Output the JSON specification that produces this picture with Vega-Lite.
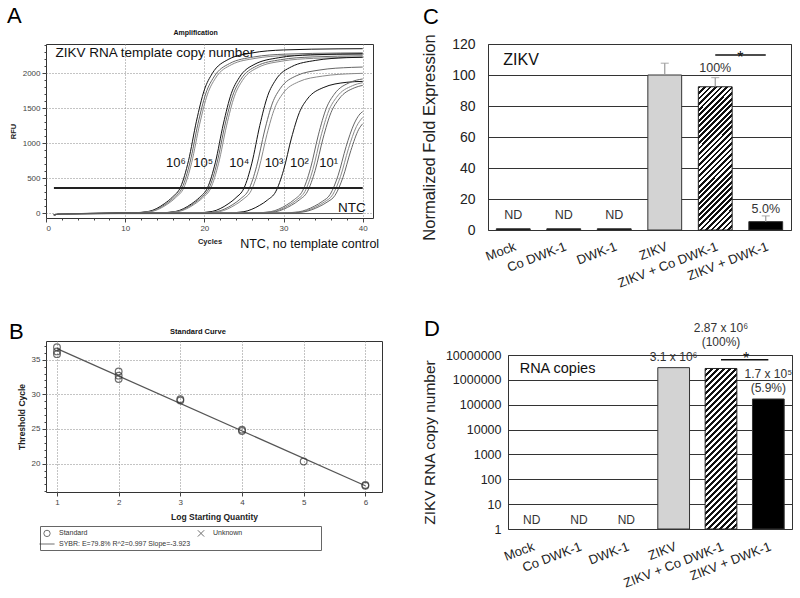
{
"$schema": "https://vega.github.io/schema/vega-lite/v6.json",
"background": "white",
"padding": {"left": 6, "top": 4, "right": 5, "bottom": 5},
"config": {
  "view": {"stroke": null},
  "font": "Liberation Sans",
  "axis": {"labelFont": "Liberation Sans", "titleFont": "Liberation Sans", "labelOverlap": false, "labelBound": false},
  "title": {"font": "Liberation Sans", "fontSize": 22, "fontWeight": "normal", "anchor": "start", "frame": "group", "color": "#000", "baseline": "bottom"}
},
"spacing": 26,
"resolve": {"scale": {"color": "independent", "shape": "independent"}},
"vconcat": [
 {"spacing": 115, "bounds": "flush", "resolve": {"scale": {"color": "independent", "shape": "independent"}}, "hconcat": [
  {
   "width": 327, "height": 174,
   "view": {"stroke": "#333"},
   "title": {"text": "A", "dx": -39, "offset": 1},
   "layer": [
    {
     "data": {"values": [
{"curve":"6a","rep":"1","cycle":1,"rfu":-20},{"curve":"6a","rep":"1","cycle":3,"rfu":-5},{"curve":"6a","rep":"1","cycle":11,"rfu":7},{"curve":"6a","rep":"1","cycle":13,"rfu":28},{"curve":"6a","rep":"1","cycle":14,"rfu":70},{"curve":"6a","rep":"1","cycle":15,"rfu":141},{"curve":"6a","rep":"1","cycle":16,"rfu":235},{"curve":"6a","rep":"1","cycle":17,"rfu":376},{"curve":"6a","rep":"1","cycle":18,"rfu":752},{"curve":"6a","rep":"1","cycle":19,"rfu":1316},{"curve":"6a","rep":"1","cycle":20,"rfu":1763},{"curve":"6a","rep":"1","cycle":21,"rfu":1998},{"curve":"6a","rep":"1","cycle":23,"rfu":2197},{"curve":"6a","rep":"1","cycle":26,"rfu":2291},{"curve":"6a","rep":"1","cycle":30,"rfu":2334},{"curve":"6a","rep":"1","cycle":37,"rfu":2350},{"curve":"6a","rep":"1","cycle":40,"rfu":2352},
{"curve":"6b","rep":"2","cycle":1,"rfu":-20},{"curve":"6b","rep":"2","cycle":3,"rfu":-5},{"curve":"6b","rep":"2","cycle":11.2,"rfu":7},{"curve":"6b","rep":"2","cycle":13.2,"rfu":27},{"curve":"6b","rep":"2","cycle":14.2,"rfu":69},{"curve":"6b","rep":"2","cycle":15.2,"rfu":137},{"curve":"6b","rep":"2","cycle":16.2,"rfu":229},{"curve":"6b","rep":"2","cycle":17.2,"rfu":366},{"curve":"6b","rep":"2","cycle":18.2,"rfu":733},{"curve":"6b","rep":"2","cycle":19.2,"rfu":1282},{"curve":"6b","rep":"2","cycle":20.2,"rfu":1718},{"curve":"6b","rep":"2","cycle":21.2,"rfu":1947},{"curve":"6b","rep":"2","cycle":23.2,"rfu":2141},{"curve":"6b","rep":"2","cycle":26.2,"rfu":2233},{"curve":"6b","rep":"2","cycle":30.2,"rfu":2274},{"curve":"6b","rep":"2","cycle":37.2,"rfu":2290},{"curve":"6b","rep":"2","cycle":40,"rfu":2292},
{"curve":"6c","rep":"3","cycle":1,"rfu":-20},{"curve":"6c","rep":"3","cycle":3,"rfu":-5},{"curve":"6c","rep":"3","cycle":11.4,"rfu":7},{"curve":"6c","rep":"3","cycle":13.4,"rfu":27},{"curve":"6c","rep":"3","cycle":14.4,"rfu":68},{"curve":"6c","rep":"3","cycle":15.4,"rfu":136},{"curve":"6c","rep":"3","cycle":16.4,"rfu":227},{"curve":"6c","rep":"3","cycle":17.4,"rfu":363},{"curve":"6c","rep":"3","cycle":18.4,"rfu":726},{"curve":"6c","rep":"3","cycle":19.4,"rfu":1271},{"curve":"6c","rep":"3","cycle":20.4,"rfu":1703},{"curve":"6c","rep":"3","cycle":21.4,"rfu":1930},{"curve":"6c","rep":"3","cycle":23.4,"rfu":2122},{"curve":"6c","rep":"3","cycle":26.4,"rfu":2213},{"curve":"6c","rep":"3","cycle":30.4,"rfu":2254},{"curve":"6c","rep":"3","cycle":37.4,"rfu":2270},{"curve":"6c","rep":"3","cycle":40,"rfu":2272},
{"curve":"5a","rep":"1","cycle":1,"rfu":-20},{"curve":"5a","rep":"1","cycle":3,"rfu":-5},{"curve":"5a","rep":"1","cycle":14.4,"rfu":7},{"curve":"5a","rep":"1","cycle":16.4,"rfu":27},{"curve":"5a","rep":"1","cycle":17.4,"rfu":68},{"curve":"5a","rep":"1","cycle":18.4,"rfu":137},{"curve":"5a","rep":"1","cycle":19.4,"rfu":228},{"curve":"5a","rep":"1","cycle":20.4,"rfu":365},{"curve":"5a","rep":"1","cycle":21.4,"rfu":730},{"curve":"5a","rep":"1","cycle":22.4,"rfu":1277},{"curve":"5a","rep":"1","cycle":23.4,"rfu":1710},{"curve":"5a","rep":"1","cycle":24.4,"rfu":1938},{"curve":"5a","rep":"1","cycle":26.4,"rfu":2132},{"curve":"5a","rep":"1","cycle":29.4,"rfu":2223},{"curve":"5a","rep":"1","cycle":33.4,"rfu":2264},{"curve":"5a","rep":"1","cycle":40,"rfu":2280},
{"curve":"5b","rep":"2","cycle":1,"rfu":-20},{"curve":"5b","rep":"2","cycle":3,"rfu":-5},{"curve":"5b","rep":"2","cycle":14.6,"rfu":7},{"curve":"5b","rep":"2","cycle":16.6,"rfu":27},{"curve":"5b","rep":"2","cycle":17.6,"rfu":68},{"curve":"5b","rep":"2","cycle":18.6,"rfu":135},{"curve":"5b","rep":"2","cycle":19.6,"rfu":225},{"curve":"5b","rep":"2","cycle":20.6,"rfu":360},{"curve":"5b","rep":"2","cycle":21.6,"rfu":720},{"curve":"5b","rep":"2","cycle":22.6,"rfu":1260},{"curve":"5b","rep":"2","cycle":23.6,"rfu":1688},{"curve":"5b","rep":"2","cycle":24.6,"rfu":1913},{"curve":"5b","rep":"2","cycle":26.6,"rfu":2104},{"curve":"5b","rep":"2","cycle":29.6,"rfu":2194},{"curve":"5b","rep":"2","cycle":33.6,"rfu":2234},{"curve":"5b","rep":"2","cycle":40,"rfu":2250},
{"curve":"5c","rep":"3","cycle":1,"rfu":-20},{"curve":"5c","rep":"3","cycle":3,"rfu":-5},{"curve":"5c","rep":"3","cycle":14.8,"rfu":7},{"curve":"5c","rep":"3","cycle":16.8,"rfu":27},{"curve":"5c","rep":"3","cycle":17.8,"rfu":67},{"curve":"5c","rep":"3","cycle":18.8,"rfu":134},{"curve":"5c","rep":"3","cycle":19.8,"rfu":223},{"curve":"5c","rep":"3","cycle":20.8,"rfu":357},{"curve":"5c","rep":"3","cycle":21.8,"rfu":714},{"curve":"5c","rep":"3","cycle":22.8,"rfu":1249},{"curve":"5c","rep":"3","cycle":23.8,"rfu":1673},{"curve":"5c","rep":"3","cycle":24.8,"rfu":1896},{"curve":"5c","rep":"3","cycle":26.8,"rfu":2085},{"curve":"5c","rep":"3","cycle":29.8,"rfu":2174},{"curve":"5c","rep":"3","cycle":33.8,"rfu":2214},{"curve":"5c","rep":"3","cycle":40,"rfu":2230},
{"curve":"4a","rep":"1","cycle":1,"rfu":-20},{"curve":"4a","rep":"1","cycle":3,"rfu":-5},{"curve":"4a","rep":"1","cycle":19,"rfu":7},{"curve":"4a","rep":"1","cycle":21,"rfu":27},{"curve":"4a","rep":"1","cycle":22,"rfu":67},{"curve":"4a","rep":"1","cycle":23,"rfu":134},{"curve":"4a","rep":"1","cycle":24,"rfu":224},{"curve":"4a","rep":"1","cycle":25,"rfu":358},{"curve":"4a","rep":"1","cycle":26,"rfu":717},{"curve":"4a","rep":"1","cycle":27,"rfu":1254},{"curve":"4a","rep":"1","cycle":28,"rfu":1680},{"curve":"4a","rep":"1","cycle":29,"rfu":1904},{"curve":"4a","rep":"1","cycle":31,"rfu":2094},{"curve":"4a","rep":"1","cycle":34,"rfu":2184},{"curve":"4a","rep":"1","cycle":38,"rfu":2224},{"curve":"4a","rep":"1","cycle":40,"rfu":2230},
{"curve":"4b","rep":"2","cycle":1,"rfu":-20},{"curve":"4b","rep":"2","cycle":3,"rfu":-5},{"curve":"4b","rep":"2","cycle":19.6,"rfu":6},{"curve":"4b","rep":"2","cycle":21.6,"rfu":25},{"curve":"4b","rep":"2","cycle":22.6,"rfu":63},{"curve":"4b","rep":"2","cycle":23.6,"rfu":126},{"curve":"4b","rep":"2","cycle":24.6,"rfu":210},{"curve":"4b","rep":"2","cycle":25.6,"rfu":336},{"curve":"4b","rep":"2","cycle":26.6,"rfu":672},{"curve":"4b","rep":"2","cycle":27.6,"rfu":1176},{"curve":"4b","rep":"2","cycle":28.6,"rfu":1575},{"curve":"4b","rep":"2","cycle":29.6,"rfu":1785},{"curve":"4b","rep":"2","cycle":31.6,"rfu":1964},{"curve":"4b","rep":"2","cycle":34.6,"rfu":2048},{"curve":"4b","rep":"2","cycle":38.6,"rfu":2085},{"curve":"4b","rep":"2","cycle":40,"rfu":2090},
{"curve":"4c","rep":"3","cycle":1,"rfu":-20},{"curve":"4c","rep":"3","cycle":3,"rfu":-5},{"curve":"4c","rep":"3","cycle":19.9,"rfu":6},{"curve":"4c","rep":"3","cycle":21.9,"rfu":24},{"curve":"4c","rep":"3","cycle":22.9,"rfu":60},{"curve":"4c","rep":"3","cycle":23.9,"rfu":121},{"curve":"4c","rep":"3","cycle":24.9,"rfu":201},{"curve":"4c","rep":"3","cycle":25.9,"rfu":322},{"curve":"4c","rep":"3","cycle":26.9,"rfu":643},{"curve":"4c","rep":"3","cycle":27.9,"rfu":1126},{"curve":"4c","rep":"3","cycle":28.9,"rfu":1508},{"curve":"4c","rep":"3","cycle":29.9,"rfu":1709},{"curve":"4c","rep":"3","cycle":31.9,"rfu":1879},{"curve":"4c","rep":"3","cycle":34.9,"rfu":1960},{"curve":"4c","rep":"3","cycle":38.9,"rfu":1996},{"curve":"4c","rep":"3","cycle":40,"rfu":2000},
{"curve":"3a","rep":"1","cycle":1,"rfu":-20},{"curve":"3a","rep":"1","cycle":3,"rfu":-5},{"curve":"3a","rep":"1","cycle":23,"rfu":6},{"curve":"3a","rep":"1","cycle":25,"rfu":23},{"curve":"3a","rep":"1","cycle":26,"rfu":58},{"curve":"3a","rep":"1","cycle":27,"rfu":115},{"curve":"3a","rep":"1","cycle":28,"rfu":192},{"curve":"3a","rep":"1","cycle":29,"rfu":307},{"curve":"3a","rep":"1","cycle":30,"rfu":614},{"curve":"3a","rep":"1","cycle":31,"rfu":1075},{"curve":"3a","rep":"1","cycle":32,"rfu":1440},{"curve":"3a","rep":"1","cycle":33,"rfu":1632},{"curve":"3a","rep":"1","cycle":35,"rfu":1795},{"curve":"3a","rep":"1","cycle":38,"rfu":1872},{"curve":"3a","rep":"1","cycle":40,"rfu":1885},
{"curve":"2a","rep":"2","cycle":1,"rfu":-20},{"curve":"2a","rep":"2","cycle":3,"rfu":-5},{"curve":"2a","rep":"2","cycle":26.4,"rfu":6},{"curve":"2a","rep":"2","cycle":28.4,"rfu":24},{"curve":"2a","rep":"2","cycle":29.4,"rfu":60},{"curve":"2a","rep":"2","cycle":30.4,"rfu":120},{"curve":"2a","rep":"2","cycle":31.4,"rfu":200},{"curve":"2a","rep":"2","cycle":32.4,"rfu":320},{"curve":"2a","rep":"2","cycle":33.4,"rfu":640},{"curve":"2a","rep":"2","cycle":34.4,"rfu":1120},{"curve":"2a","rep":"2","cycle":35.4,"rfu":1500},{"curve":"2a","rep":"2","cycle":36.4,"rfu":1700},{"curve":"2a","rep":"2","cycle":38.4,"rfu":1870},{"curve":"2a","rep":"2","cycle":40,"rfu":1920},
{"curve":"2b","rep":"3","cycle":1,"rfu":-20},{"curve":"2b","rep":"3","cycle":3,"rfu":-5},{"curve":"2b","rep":"3","cycle":26.7,"rfu":6},{"curve":"2b","rep":"3","cycle":28.7,"rfu":23},{"curve":"2b","rep":"3","cycle":29.7,"rfu":59},{"curve":"2b","rep":"3","cycle":30.7,"rfu":117},{"curve":"2b","rep":"3","cycle":31.7,"rfu":195},{"curve":"2b","rep":"3","cycle":32.7,"rfu":312},{"curve":"2b","rep":"3","cycle":33.7,"rfu":624},{"curve":"2b","rep":"3","cycle":34.7,"rfu":1092},{"curve":"2b","rep":"3","cycle":35.7,"rfu":1463},{"curve":"2b","rep":"3","cycle":36.7,"rfu":1658},{"curve":"2b","rep":"3","cycle":38.7,"rfu":1823},{"curve":"2b","rep":"3","cycle":40,"rfu":1866},
{"curve":"2c","rep":"2","cycle":1,"rfu":-20},{"curve":"2c","rep":"2","cycle":3,"rfu":-5},{"curve":"2c","rep":"2","cycle":27,"rfu":6},{"curve":"2c","rep":"2","cycle":29,"rfu":23},{"curve":"2c","rep":"2","cycle":30,"rfu":58},{"curve":"2c","rep":"2","cycle":31,"rfu":115},{"curve":"2c","rep":"2","cycle":32,"rfu":192},{"curve":"2c","rep":"2","cycle":33,"rfu":307},{"curve":"2c","rep":"2","cycle":34,"rfu":614},{"curve":"2c","rep":"2","cycle":35,"rfu":1075},{"curve":"2c","rep":"2","cycle":36,"rfu":1440},{"curve":"2c","rep":"2","cycle":37,"rfu":1632},{"curve":"2c","rep":"2","cycle":39,"rfu":1795},{"curve":"2c","rep":"2","cycle":40,"rfu":1828},
{"curve":"1a","rep":"2","cycle":1,"rfu":-20},{"curve":"1a","rep":"2","cycle":3,"rfu":-5},{"curve":"1a","rep":"2","cycle":29.9,"rfu":6},{"curve":"1a","rep":"2","cycle":31.9,"rfu":20},{"curve":"1a","rep":"2","cycle":32.9,"rfu":51},{"curve":"1a","rep":"2","cycle":33.9,"rfu":102},{"curve":"1a","rep":"2","cycle":34.9,"rfu":170},{"curve":"1a","rep":"2","cycle":35.9,"rfu":272},{"curve":"1a","rep":"2","cycle":36.9,"rfu":544},{"curve":"1a","rep":"2","cycle":37.9,"rfu":952},{"curve":"1a","rep":"2","cycle":38.9,"rfu":1275},{"curve":"1a","rep":"2","cycle":39.9,"rfu":1445},{"curve":"1a","rep":"2","cycle":40,"rfu":1452},
{"curve":"1b","rep":"3","cycle":1,"rfu":-20},{"curve":"1b","rep":"3","cycle":3,"rfu":-5},{"curve":"1b","rep":"3","cycle":30.2,"rfu":5},{"curve":"1b","rep":"3","cycle":32.2,"rfu":20},{"curve":"1b","rep":"3","cycle":33.2,"rfu":50},{"curve":"1b","rep":"3","cycle":34.2,"rfu":99},{"curve":"1b","rep":"3","cycle":35.2,"rfu":165},{"curve":"1b","rep":"3","cycle":36.2,"rfu":264},{"curve":"1b","rep":"3","cycle":37.2,"rfu":528},{"curve":"1b","rep":"3","cycle":38.2,"rfu":924},{"curve":"1b","rep":"3","cycle":39.2,"rfu":1238},{"curve":"1b","rep":"3","cycle":40,"rfu":1370},
{"curve":"1c","rep":"2","cycle":1,"rfu":-20},{"curve":"1c","rep":"2","cycle":3,"rfu":-5},{"curve":"1c","rep":"2","cycle":30.5,"rfu":5},{"curve":"1c","rep":"2","cycle":32.5,"rfu":19},{"curve":"1c","rep":"2","cycle":33.5,"rfu":48},{"curve":"1c","rep":"2","cycle":34.5,"rfu":96},{"curve":"1c","rep":"2","cycle":35.5,"rfu":160},{"curve":"1c","rep":"2","cycle":36.5,"rfu":256},{"curve":"1c","rep":"2","cycle":37.5,"rfu":512},{"curve":"1c","rep":"2","cycle":38.5,"rfu":896},{"curve":"1c","rep":"2","cycle":39.5,"rfu":1200},{"curve":"1c","rep":"2","cycle":40,"rfu":1280},
{"curve":"ntc","rep":"ntc","cycle":1,"rfu":-20},{"curve":"ntc","rep":"ntc","cycle":3,"rfu":-5},{"curve":"ntc","rep":"ntc","cycle":40,"rfu":-3}
     ]},
     "mark": {"type": "line", "interpolate": "monotone", "strokeWidth": 1},
     "encoding": {
      "x": {"field": "cycle", "type": "quantitative", "scale": {"domain": [0, 41.3], "nice": false, "zero": false},
            "axis": {"values": [0,2,4,6,8,10,12,14,16,18,20,22,24,26,28,30,32,34,36,38,40], "tickCount": 100, "format": "d", "labelOverlap": false,
                     "labelExpr": "datum.value % 10 === 0 ? datum.label : ''",
                     "tickSize": {"condition": {"test": "datum.value % 10 === 0", "value": 4}, "value": 2},
                     "grid": true, "gridDash": [1, 2], "gridColor": "#888",
                     "gridOpacity": {"condition": {"test": "datum.value % 10 === 0 && datum.value > 0", "value": 1}, "value": 0},
                     "domain": false, "tickColor": "#444", "labelFontSize": 8, "labelColor": "#444", "labelPadding": 2,
                     "title": "Cycles", "titleFontSize": 7.5, "titleFontWeight": "bold", "titleColor": "#222", "titlePadding": 5}},
      "y": {"field": "rfu", "type": "quantitative", "scale": {"domain": [-67, 2419], "nice": false, "zero": false},
            "axis": {"values": [0,100,200,300,400,500,600,700,800,900,1000,1100,1200,1300,1400,1500,1600,1700,1800,1900,2000,2100,2200,2300,2400], "tickCount": 100, "format": "d", "labelOverlap": false,
                     "labelExpr": "datum.value % 500 === 0 ? datum.label : ''",
                     "tickSize": {"condition": {"test": "datum.value % 500 === 0", "value": 4}, "value": 2},
                     "grid": true, "gridDash": [1, 2], "gridColor": "#888",
                     "gridOpacity": {"condition": {"test": "datum.value % 500 === 0", "value": 1}, "value": 0},
                     "domain": false, "tickColor": "#444", "labelFontSize": 8, "labelColor": "#444", "labelPadding": 2,
                     "title": "RFU", "titleFontSize": 7.5, "titleFontWeight": "bold", "titleColor": "#222", "titlePadding": 5}},
      "detail": {"field": "curve"},
      "color": {"field": "rep", "type": "nominal", "scale": {"domain": ["1","2","3","ntc"], "range": ["#111","#666","#8a8a8a","#555"]}, "legend": null}
     }
    },
    {
     "data": {"values": [{"cycle": 1, "cycle2": 40, "rfu": 360}]},
     "mark": {"type": "rule", "strokeWidth": 2, "color": "#222"},
     "encoding": {"x": {"field": "cycle", "type": "quantitative"}, "x2": {"field": "cycle2"}, "y": {"field": "rfu", "type": "quantitative"}}
    },
    {
     "data": {"values": [
      {"cycle": 16.4, "rfu": 718, "label": "10⁶"},
      {"cycle": 19.85, "rfu": 718, "label": "10⁵"},
      {"cycle": 24.4, "rfu": 718, "label": "10⁴"},
      {"cycle": 28.8, "rfu": 718, "label": "10³"},
      {"cycle": 32.0, "rfu": 718, "label": "10²"},
      {"cycle": 35.7, "rfu": 718, "label": "10¹"}
     ]},
     "mark": {"type": "text", "fontSize": 13, "color": "#111"},
     "encoding": {"x": {"field": "cycle", "type": "quantitative"}, "y": {"field": "rfu", "type": "quantitative"}, "text": {"field": "label"}}
    },
    {
     "data": {"values": [{"cycle": 1.2, "rfu": 2290, "label": "ZIKV RNA template  copy number"}]},
     "mark": {"type": "text", "fontSize": 13.5, "align": "left", "color": "#111"},
     "encoding": {"x": {"field": "cycle", "type": "quantitative"}, "y": {"field": "rfu", "type": "quantitative"}, "text": {"field": "label"}}
    },
    {
     "data": {"values": [{"cycle": 40.4, "rfu": 76, "label": "NTC"}]},
     "mark": {"type": "text", "fontSize": 13.5, "align": "right", "color": "#111"},
     "encoding": {"x": {"field": "cycle", "type": "quantitative"}, "y": {"field": "rfu", "type": "quantitative"}, "text": {"field": "label"}}
    },
    {
     "data": {"values": [{"cycle": 33.3, "rfu": -439, "label": "NTC, no template control"}]},
     "mark": {"type": "text", "fontSize": 12.5, "color": "#111"},
     "encoding": {"x": {"field": "cycle", "type": "quantitative"}, "y": {"field": "rfu", "type": "quantitative"}, "text": {"field": "label"}}
    },
    {
     "data": {"values": [{"cycle": 18.9, "rfu": 2576, "label": "Amplification"}]},
     "mark": {"type": "text", "fontSize": 7, "fontWeight": "bold", "color": "#111"},
     "encoding": {"x": {"field": "cycle", "type": "quantitative"}, "y": {"field": "rfu", "type": "quantitative"}, "text": {"field": "label"}}
    }
   ]
  },
  {
   "width": 303, "height": 186,
   "view": {"stroke": "#333"},
   "title": {"text": "C", "dx": -65, "offset": 5},
   "encoding": {
    "x": {"field": "grp", "type": "nominal", "sort": null,
          "scale": {"domain": ["Mock","Co DWK-1","DWK-1","ZIKV","ZIKV + Co DWK-1","ZIKV + DWK-1"], "paddingInner": 0, "paddingOuter": 0},
          "axis": {"title": null, "labelAngle": -21, "labelAlign": "right", "labelBaseline": "top", "labelFontSize": 13, "labelPadding": 10, "ticks": false, "domain": false, "labelColor": "#222", "labelOverlap": false}}
   },
   "layer": [
    {
     "data": {"values": [
      {"grp": "Mock", "val": 0.8},
      {"grp": "Co DWK-1", "val": 0.8},
      {"grp": "DWK-1", "val": 0.8},
      {"grp": "ZIKV", "val": 100},
      {"grp": "ZIKV + DWK-1", "val": 5.4}
     ]},
     "mark": {"type": "bar", "width": {"band": 0.67}, "stroke": "#333", "strokeWidth": 1},
     "encoding": {
      "y": {"field": "val", "type": "quantitative", "scale": {"domain": [0, 120], "nice": false},
            "axis": {"values": [0,20,40,60,80,100,120], "tickCount": 100, "labelOverlap": false, "grid": true, "gridColor": "#333", "domain": false, "ticks": false,
                     "labelFontSize": 14, "labelPadding": 13, "labelColor": "#222",
                     "title": "Normalized Fold Expression", "titleFontSize": 16.5, "titleFontWeight": "normal", "titleColor": "#222", "titlePadding": 14}},
      "color": {"field": "grp", "type": "nominal", "scale": {"domain": ["Mock","Co DWK-1","DWK-1","ZIKV","ZIKV + DWK-1"], "range": ["#000","#000","#000","#d3d3d3","#000"]}, "legend": null}
     }
    },
    {
     "data": {"values": [{"grp": "ZIKV + Co DWK-1", "val": 92.4}]},
     "mark": {"type": "bar", "width": {"band": 0.67}, "stroke": "#222", "strokeWidth": 1,
      "fill": {"gradient": "linear", "x1": 0, "y1": 0, "x2": 0.2776, "y2": 1.171, "stops": [
{"offset":0,"color":"#111"},{"offset":0.0156,"color":"#111"},{"offset":0.0156,"color":"#fff"},{"offset":0.0313,"color":"#fff"},
{"offset":0.0313,"color":"#111"},{"offset":0.0469,"color":"#111"},{"offset":0.0469,"color":"#fff"},{"offset":0.0625,"color":"#fff"},
{"offset":0.0625,"color":"#111"},{"offset":0.0781,"color":"#111"},{"offset":0.0781,"color":"#fff"},{"offset":0.0938,"color":"#fff"},
{"offset":0.0938,"color":"#111"},{"offset":0.1094,"color":"#111"},{"offset":0.1094,"color":"#fff"},{"offset":0.125,"color":"#fff"},
{"offset":0.125,"color":"#111"},{"offset":0.1406,"color":"#111"},{"offset":0.1406,"color":"#fff"},{"offset":0.1563,"color":"#fff"},
{"offset":0.1563,"color":"#111"},{"offset":0.1719,"color":"#111"},{"offset":0.1719,"color":"#fff"},{"offset":0.1875,"color":"#fff"},
{"offset":0.1875,"color":"#111"},{"offset":0.2031,"color":"#111"},{"offset":0.2031,"color":"#fff"},{"offset":0.2188,"color":"#fff"},
{"offset":0.2188,"color":"#111"},{"offset":0.2344,"color":"#111"},{"offset":0.2344,"color":"#fff"},{"offset":0.25,"color":"#fff"},
{"offset":0.25,"color":"#111"},{"offset":0.2656,"color":"#111"},{"offset":0.2656,"color":"#fff"},{"offset":0.2813,"color":"#fff"},
{"offset":0.2813,"color":"#111"},{"offset":0.2969,"color":"#111"},{"offset":0.2969,"color":"#fff"},{"offset":0.3125,"color":"#fff"},
{"offset":0.3125,"color":"#111"},{"offset":0.3281,"color":"#111"},{"offset":0.3281,"color":"#fff"},{"offset":0.3438,"color":"#fff"},
{"offset":0.3438,"color":"#111"},{"offset":0.3594,"color":"#111"},{"offset":0.3594,"color":"#fff"},{"offset":0.375,"color":"#fff"},
{"offset":0.375,"color":"#111"},{"offset":0.3906,"color":"#111"},{"offset":0.3906,"color":"#fff"},{"offset":0.4063,"color":"#fff"},
{"offset":0.4063,"color":"#111"},{"offset":0.4219,"color":"#111"},{"offset":0.4219,"color":"#fff"},{"offset":0.4375,"color":"#fff"},
{"offset":0.4375,"color":"#111"},{"offset":0.4531,"color":"#111"},{"offset":0.4531,"color":"#fff"},{"offset":0.4688,"color":"#fff"},
{"offset":0.4688,"color":"#111"},{"offset":0.4844,"color":"#111"},{"offset":0.4844,"color":"#fff"},{"offset":0.5,"color":"#fff"},
{"offset":0.5,"color":"#111"},{"offset":0.5156,"color":"#111"},{"offset":0.5156,"color":"#fff"},{"offset":0.5313,"color":"#fff"},
{"offset":0.5313,"color":"#111"},{"offset":0.5469,"color":"#111"},{"offset":0.5469,"color":"#fff"},{"offset":0.5625,"color":"#fff"},
{"offset":0.5625,"color":"#111"},{"offset":0.5781,"color":"#111"},{"offset":0.5781,"color":"#fff"},{"offset":0.5938,"color":"#fff"},
{"offset":0.5938,"color":"#111"},{"offset":0.6094,"color":"#111"},{"offset":0.6094,"color":"#fff"},{"offset":0.625,"color":"#fff"},
{"offset":0.625,"color":"#111"},{"offset":0.6406,"color":"#111"},{"offset":0.6406,"color":"#fff"},{"offset":0.6563,"color":"#fff"},
{"offset":0.6563,"color":"#111"},{"offset":0.6719,"color":"#111"},{"offset":0.6719,"color":"#fff"},{"offset":0.6875,"color":"#fff"},
{"offset":0.6875,"color":"#111"},{"offset":0.7031,"color":"#111"},{"offset":0.7031,"color":"#fff"},{"offset":0.7188,"color":"#fff"},
{"offset":0.7188,"color":"#111"},{"offset":0.7344,"color":"#111"},{"offset":0.7344,"color":"#fff"},{"offset":0.75,"color":"#fff"},
{"offset":0.75,"color":"#111"},{"offset":0.7656,"color":"#111"},{"offset":0.7656,"color":"#fff"},{"offset":0.7813,"color":"#fff"},
{"offset":0.7813,"color":"#111"},{"offset":0.7969,"color":"#111"},{"offset":0.7969,"color":"#fff"},{"offset":0.8125,"color":"#fff"},
{"offset":0.8125,"color":"#111"},{"offset":0.8281,"color":"#111"},{"offset":0.8281,"color":"#fff"},{"offset":0.8438,"color":"#fff"},
{"offset":0.8438,"color":"#111"},{"offset":0.8594,"color":"#111"},{"offset":0.8594,"color":"#fff"},{"offset":0.875,"color":"#fff"},
{"offset":0.875,"color":"#111"},{"offset":0.8906,"color":"#111"},{"offset":0.8906,"color":"#fff"},{"offset":0.9063,"color":"#fff"},
{"offset":0.9063,"color":"#111"},{"offset":0.9219,"color":"#111"},{"offset":0.9219,"color":"#fff"},{"offset":0.9375,"color":"#fff"},
{"offset":0.9375,"color":"#111"},{"offset":0.9531,"color":"#111"},{"offset":0.9531,"color":"#fff"},{"offset":0.9688,"color":"#fff"},
{"offset":0.9688,"color":"#111"},{"offset":0.9844,"color":"#111"},{"offset":0.9844,"color":"#fff"},{"offset":1,"color":"#fff"}
      ]}},
     "encoding": {"y": {"field": "val", "type": "quantitative"}}
    },
    {
     "data": {"values": [
      {"grp": "ZIKV", "val": 100, "err": 107.6},
      {"grp": "ZIKV + Co DWK-1", "val": 92.4, "err": 98.3},
      {"grp": "ZIKV + DWK-1", "val": 5.4, "err": 9.1}
     ]},
     "layer": [
      {"mark": {"type": "rule", "color": "#999", "strokeWidth": 1.2}, "encoding": {"y": {"field": "val", "type": "quantitative"}, "y2": {"field": "err"}}},
      {"mark": {"type": "tick", "orient": "horizontal", "size": 8, "thickness": 1.2, "color": "#999"}, "encoding": {"y": {"field": "err", "type": "quantitative"}}}
     ]
    },
    {
     "data": {"values": [{"grp": "ZIKV + Co DWK-1", "grp2": "ZIKV + DWK-1", "val": 112.9}]},
     "mark": {"type": "rule", "strokeWidth": 1.5, "color": "#111"},
     "encoding": {"x2": {"field": "grp2"}, "y": {"field": "val", "type": "quantitative"}}
    },
    {
     "data": {"values": [{"grp": "ZIKV + Co DWK-1", "val": 111, "label": "*"}]},
     "mark": {"type": "text", "fontSize": 16, "dx": 25, "color": "#111"},
     "encoding": {"y": {"field": "val", "type": "quantitative"}, "text": {"field": "label"}}
    },
    {
     "data": {"values": [{"grp": "Mock", "val": 109.6, "label": "ZIKV"}]},
     "mark": {"type": "text", "fontSize": 16, "align": "left", "dx": -10, "color": "#111"},
     "encoding": {"y": {"field": "val", "type": "quantitative"}, "text": {"field": "label"}}
    },
    {
     "data": {"values": [
      {"grp": "ZIKV + Co DWK-1", "val": 104.4, "label": "100%"},
      {"grp": "ZIKV + DWK-1", "val": 13.7, "label": "5.0%"},
      {"grp": "Mock", "val": 9.8, "label": "ND"},
      {"grp": "Co DWK-1", "val": 9.8, "label": "ND"},
      {"grp": "DWK-1", "val": 9.8, "label": "ND"}
     ]},
     "mark": {"type": "text", "fontSize": 12.5, "color": "#333"},
     "encoding": {"y": {"field": "val", "type": "quantitative"}, "text": {"field": "label"}}
    }
   ]
  }
 ]},
 {"spacing": 126, "bounds": "flush", "resolve": {"scale": {"color": "independent", "shape": "independent"}}, "hconcat": [
  {
   "width": 336, "height": 151,
   "view": {"stroke": "#333"},
   "title": {"text": "B", "dx": -37, "offset": -16},
   "layer": [
    {
     "data": {"values": [{"logq": 1, "ct": 36.6}, {"logq": 6, "ct": 16.8}]},
     "mark": {"type": "line", "color": "#555", "strokeWidth": 1.2},
     "encoding": {
      "x": {"field": "logq", "type": "quantitative", "scale": {"domain": [0.822, 6.27], "nice": false, "zero": false},
            "axis": {"values": [1,1.25,1.5,1.75,2,2.25,2.5,2.75,3,3.25,3.5,3.75,4,4.25,4.5,4.75,5,5.25,5.5,5.75,6], "tickCount": 100, "format": "d", "labelOverlap": false,
                     "labelExpr": "datum.value % 1 === 0 ? datum.label : ''",
                     "tickSize": {"condition": {"test": "datum.value % 1 === 0", "value": 4}, "value": 2},
                     "grid": true, "gridDash": [1, 2], "gridColor": "#888",
                     "gridOpacity": {"condition": {"test": "datum.value % 1 === 0", "value": 1}, "value": 0},
                     "domain": false, "tickColor": "#444", "labelFontSize": 8, "labelColor": "#444", "labelPadding": 2,
                     "title": "Log Starting Quantity", "titleFontSize": 8.5, "titleFontWeight": "bold", "titleColor": "#222", "titlePadding": 6}},
      "y": {"field": "ct", "type": "quantitative", "scale": {"domain": [15.9, 37.7], "nice": false, "zero": false},
            "axis": {"values": [16,17,18,19,20,21,22,23,24,25,26,27,28,29,30,31,32,33,34,35,36,37], "tickCount": 100, "format": "d", "labelOverlap": false,
                     "labelExpr": "datum.value % 5 === 0 ? datum.label : ''",
                     "tickSize": {"condition": {"test": "datum.value % 5 === 0", "value": 4}, "value": 2},
                     "grid": true, "gridDash": [1, 2], "gridColor": "#888",
                     "gridOpacity": {"condition": {"test": "datum.value % 5 === 0", "value": 1}, "value": 0},
                     "domain": false, "tickColor": "#444", "labelFontSize": 8, "labelColor": "#444", "labelPadding": 2,
                     "title": "Threshold Cycle", "titleFontSize": 8.5, "titleFontWeight": "bold", "titleColor": "#222", "titlePadding": 5}}
     }
    },
    {
     "data": {"values": [
      {"logq": 1, "ct": 36.8, "series": "Standard"},
      {"logq": 1, "ct": 36.2, "series": "Standard"},
      {"logq": 1, "ct": 35.8, "series": "Standard"},
      {"logq": 2, "ct": 33.3, "series": "Standard"},
      {"logq": 2, "ct": 32.7, "series": "Standard"},
      {"logq": 2, "ct": 32.2, "series": "Standard"},
      {"logq": 3, "ct": 29.3, "series": "Standard"},
      {"logq": 3, "ct": 29.1, "series": "Standard"},
      {"logq": 4, "ct": 24.9, "series": "Standard"},
      {"logq": 4, "ct": 24.7, "series": "Standard"},
      {"logq": 5, "ct": 20.3, "series": "Standard"},
      {"logq": 6, "ct": 16.9, "series": "Standard"},
      {"logq": 6, "ct": 16.8, "series": "Standard"}
     ]},
     "mark": {"type": "point", "filled": false, "size": 45, "strokeWidth": 1.2, "color": "#333"},
     "encoding": {
      "x": {"field": "logq", "type": "quantitative"},
      "y": {"field": "ct", "type": "quantitative"},
      "shape": {"field": "series", "type": "nominal",
                "scale": {"domain": ["Standard", "Unknown⠀⠀⠀⠀⠀⠀⠀⠀⠀⠀⠀⠀⠀⠀⠀", "SYBR: E=79.8% R^2=0.997 Slope=-3.923"], "range": ["circle", "M-1,-1L1,1M1,-1L-1,1", "M-2.4,0L2.4,0"]},
                "legend": {"title": null, "orient": "none", "legendX": -6, "legendY": 185, "direction": "horizontal", "columns": 2,
                           "strokeColor": "#666", "padding": 3, "labelFontSize": 7, "labelColor": "#333", "symbolSize": 40,
                           "symbolStrokeColor": "#333", "symbolFillColor": "transparent", "symbolStrokeWidth": 1,
                           "rowPadding": 1, "columnPadding": 4, "labelOffset": 8, "labelLimit": 400}}
     }
    },
    {
     "data": {"values": [{"logq": 3.285, "ct": 39.0, "label": "Standard Curve"}]},
     "mark": {"type": "text", "fontSize": 7.5, "fontWeight": "bold", "color": "#111"},
     "encoding": {"x": {"field": "logq", "type": "quantitative"}, "y": {"field": "ct", "type": "quantitative"}, "text": {"field": "label"}}
    }
   ]
  },
  {"spacing": 0, "bounds": "flush", "vconcat": [
   {"width": 284, "height": 14, "data": {"values": [{}]}, "mark": {"type": "point", "opacity": 0}},
   {
    "width": 284, "height": 174,
    "view": {"stroke": "#333"},
    "title": {"text": "D", "dx": -84, "offset": -19},
    "encoding": {
     "x": {"field": "grp", "type": "nominal", "sort": null,
           "scale": {"domain": ["Mock","Co DWK-1","DWK-1","ZIKV","ZIKV + Co DWK-1","ZIKV + DWK-1"], "paddingInner": 0, "paddingOuter": 0},
           "axis": {"title": null, "labelAngle": -21, "labelAlign": "right", "labelBaseline": "top", "labelFontSize": 13, "labelPadding": 11, "ticks": false, "domain": false, "labelColor": "#222", "labelOverlap": false}}
    },
    "layer": [
     {
      "data": {"values": [
       {"grp": "ZIKV", "val": 3100000, "base": 1},
       {"grp": "ZIKV + DWK-1", "val": 170000, "base": 1}
      ]},
      "mark": {"type": "bar", "width": {"band": 0.67}, "stroke": "#333", "strokeWidth": 1},
      "encoding": {
       "y": {"field": "val", "type": "quantitative", "scale": {"type": "log", "domain": [1, 10000000], "nice": false},
             "axis": {"values": [1,10,100,1000,10000,100000,1000000,10000000], "tickCount": 100, "format": "d", "labelOverlap": false, "grid": true, "gridColor": "#333", "domain": false, "ticks": false,
                      "labelFontSize": 12.5, "labelPadding": 7, "labelColor": "#222",
                      "title": "ZIKV RNA copy number", "titleFontSize": 15.5, "titleFontWeight": "normal", "titleColor": "#222", "titlePadding": 8}},
       "y2": {"field": "base"},
       "color": {"field": "grp", "type": "nominal", "scale": {"domain": ["ZIKV","ZIKV + DWK-1"], "range": ["#d3d3d3","#000"]}, "legend": null}
      }
     },
     {
      "data": {"values": [{"grp": "ZIKV + Co DWK-1", "val": 2870000, "base": 1}]},
      "mark": {"type": "bar", "width": {"band": 0.67}, "stroke": "#222", "strokeWidth": 1,
       "fill": {"gradient": "linear", "x1": 0, "y1": 0, "x2": 0.2276, "y2": 1.1525, "stops": [
{"offset":0,"color":"#111"},{"offset":0.0156,"color":"#111"},{"offset":0.0156,"color":"#fff"},{"offset":0.0313,"color":"#fff"},
{"offset":0.0313,"color":"#111"},{"offset":0.0469,"color":"#111"},{"offset":0.0469,"color":"#fff"},{"offset":0.0625,"color":"#fff"},
{"offset":0.0625,"color":"#111"},{"offset":0.0781,"color":"#111"},{"offset":0.0781,"color":"#fff"},{"offset":0.0938,"color":"#fff"},
{"offset":0.0938,"color":"#111"},{"offset":0.1094,"color":"#111"},{"offset":0.1094,"color":"#fff"},{"offset":0.125,"color":"#fff"},
{"offset":0.125,"color":"#111"},{"offset":0.1406,"color":"#111"},{"offset":0.1406,"color":"#fff"},{"offset":0.1563,"color":"#fff"},
{"offset":0.1563,"color":"#111"},{"offset":0.1719,"color":"#111"},{"offset":0.1719,"color":"#fff"},{"offset":0.1875,"color":"#fff"},
{"offset":0.1875,"color":"#111"},{"offset":0.2031,"color":"#111"},{"offset":0.2031,"color":"#fff"},{"offset":0.2188,"color":"#fff"},
{"offset":0.2188,"color":"#111"},{"offset":0.2344,"color":"#111"},{"offset":0.2344,"color":"#fff"},{"offset":0.25,"color":"#fff"},
{"offset":0.25,"color":"#111"},{"offset":0.2656,"color":"#111"},{"offset":0.2656,"color":"#fff"},{"offset":0.2813,"color":"#fff"},
{"offset":0.2813,"color":"#111"},{"offset":0.2969,"color":"#111"},{"offset":0.2969,"color":"#fff"},{"offset":0.3125,"color":"#fff"},
{"offset":0.3125,"color":"#111"},{"offset":0.3281,"color":"#111"},{"offset":0.3281,"color":"#fff"},{"offset":0.3438,"color":"#fff"},
{"offset":0.3438,"color":"#111"},{"offset":0.3594,"color":"#111"},{"offset":0.3594,"color":"#fff"},{"offset":0.375,"color":"#fff"},
{"offset":0.375,"color":"#111"},{"offset":0.3906,"color":"#111"},{"offset":0.3906,"color":"#fff"},{"offset":0.4063,"color":"#fff"},
{"offset":0.4063,"color":"#111"},{"offset":0.4219,"color":"#111"},{"offset":0.4219,"color":"#fff"},{"offset":0.4375,"color":"#fff"},
{"offset":0.4375,"color":"#111"},{"offset":0.4531,"color":"#111"},{"offset":0.4531,"color":"#fff"},{"offset":0.4688,"color":"#fff"},
{"offset":0.4688,"color":"#111"},{"offset":0.4844,"color":"#111"},{"offset":0.4844,"color":"#fff"},{"offset":0.5,"color":"#fff"},
{"offset":0.5,"color":"#111"},{"offset":0.5156,"color":"#111"},{"offset":0.5156,"color":"#fff"},{"offset":0.5313,"color":"#fff"},
{"offset":0.5313,"color":"#111"},{"offset":0.5469,"color":"#111"},{"offset":0.5469,"color":"#fff"},{"offset":0.5625,"color":"#fff"},
{"offset":0.5625,"color":"#111"},{"offset":0.5781,"color":"#111"},{"offset":0.5781,"color":"#fff"},{"offset":0.5938,"color":"#fff"},
{"offset":0.5938,"color":"#111"},{"offset":0.6094,"color":"#111"},{"offset":0.6094,"color":"#fff"},{"offset":0.625,"color":"#fff"},
{"offset":0.625,"color":"#111"},{"offset":0.6406,"color":"#111"},{"offset":0.6406,"color":"#fff"},{"offset":0.6563,"color":"#fff"},
{"offset":0.6563,"color":"#111"},{"offset":0.6719,"color":"#111"},{"offset":0.6719,"color":"#fff"},{"offset":0.6875,"color":"#fff"},
{"offset":0.6875,"color":"#111"},{"offset":0.7031,"color":"#111"},{"offset":0.7031,"color":"#fff"},{"offset":0.7188,"color":"#fff"},
{"offset":0.7188,"color":"#111"},{"offset":0.7344,"color":"#111"},{"offset":0.7344,"color":"#fff"},{"offset":0.75,"color":"#fff"},
{"offset":0.75,"color":"#111"},{"offset":0.7656,"color":"#111"},{"offset":0.7656,"color":"#fff"},{"offset":0.7813,"color":"#fff"},
{"offset":0.7813,"color":"#111"},{"offset":0.7969,"color":"#111"},{"offset":0.7969,"color":"#fff"},{"offset":0.8125,"color":"#fff"},
{"offset":0.8125,"color":"#111"},{"offset":0.8281,"color":"#111"},{"offset":0.8281,"color":"#fff"},{"offset":0.8438,"color":"#fff"},
{"offset":0.8438,"color":"#111"},{"offset":0.8594,"color":"#111"},{"offset":0.8594,"color":"#fff"},{"offset":0.875,"color":"#fff"},
{"offset":0.875,"color":"#111"},{"offset":0.8906,"color":"#111"},{"offset":0.8906,"color":"#fff"},{"offset":0.9063,"color":"#fff"},
{"offset":0.9063,"color":"#111"},{"offset":0.9219,"color":"#111"},{"offset":0.9219,"color":"#fff"},{"offset":0.9375,"color":"#fff"},
{"offset":0.9375,"color":"#111"},{"offset":0.9531,"color":"#111"},{"offset":0.9531,"color":"#fff"},{"offset":0.9688,"color":"#fff"},
{"offset":0.9688,"color":"#111"},{"offset":0.9844,"color":"#111"},{"offset":0.9844,"color":"#fff"},{"offset":1,"color":"#fff"}
       ]}},
      "encoding": {"y": {"field": "val", "type": "quantitative"}, "y2": {"field": "base"}}
     },
     {
      "data": {"values": [{"grp": "ZIKV + Co DWK-1", "grp2": "ZIKV + DWK-1", "val": 6460000}]},
      "mark": {"type": "rule", "strokeWidth": 1.5, "color": "#111"},
      "encoding": {"x2": {"field": "grp2"}, "y": {"field": "val", "type": "quantitative"}}
     },
     {
      "data": {"values": [{"grp": "ZIKV + Co DWK-1", "val": 7200000, "label": "*"}]},
      "mark": {"type": "text", "fontSize": 16, "dx": 25, "color": "#111"},
      "encoding": {"y": {"field": "val", "type": "quantitative"}, "text": {"field": "label"}}
     },
     {
      "data": {"values": [{"grp": "Mock", "val": 2820000, "label": "RNA copies"}]},
      "mark": {"type": "text", "fontSize": 14.5, "align": "left", "dx": -12, "color": "#111"},
      "encoding": {"y": {"field": "val", "type": "quantitative"}, "text": {"field": "label"}}
     },
     {
      "data": {"values": [
       {"grp": "ZIKV", "val": 8500000, "label": "3.1 x 10⁶"},
       {"grp": "ZIKV + Co DWK-1", "val": 122000000, "label": "2.87 x 10⁶"},
       {"grp": "ZIKV + Co DWK-1", "val": 34700000, "label": "(100%)"},
       {"grp": "ZIKV + DWK-1", "val": 1760000, "label": "1.7 x 10⁵"},
       {"grp": "ZIKV + DWK-1", "val": 479000, "label": "(5.9%)"},
       {"grp": "Mock", "val": 2.3, "label": "ND"},
       {"grp": "Co DWK-1", "val": 2.3, "label": "ND"},
       {"grp": "DWK-1", "val": 2.3, "label": "ND"}
      ]},
      "mark": {"type": "text", "fontSize": 12, "color": "#333"},
      "encoding": {"y": {"field": "val", "type": "quantitative"}, "text": {"field": "label"}}
     }
    ]
   }
  ]}
 ]}
]
}
